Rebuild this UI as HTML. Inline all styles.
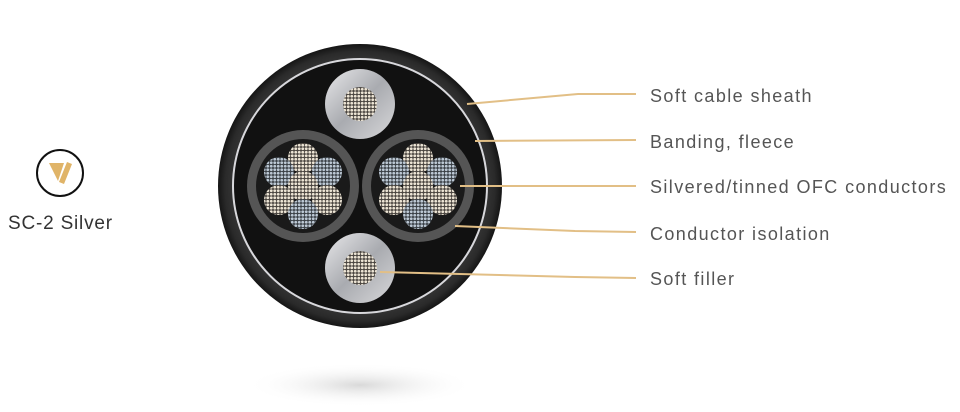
<!DOCTYPE html>
<html><head><meta charset="utf-8"><style>
html,body{margin:0;padding:0;background:#fff;width:960px;height:412px;overflow:hidden}
svg{display:block}
text{font-family:"Liberation Sans",sans-serif}
</style></head><body>
<svg width="960" height="412" viewBox="0 0 960 412" xmlns="http://www.w3.org/2000/svg">
<defs>
<radialGradient id="shadow" cx="50%" cy="50%" r="50%">
<stop offset="0" stop-color="#c8c8c8" stop-opacity="0.7"/>
<stop offset="1" stop-color="#fff" stop-opacity="0"/>
</radialGradient>
<radialGradient id="sheath" cx="50%" cy="50%" r="50%">
<stop offset="0.85" stop-color="#3a3a3a"/>
<stop offset="0.95" stop-color="#2a2a2a"/>
<stop offset="1" stop-color="#151515"/>
</radialGradient>
<linearGradient id="silver" x1="0" y1="0" x2="1" y2="1">
<stop offset="0" stop-color="#e8e8ea"/>
<stop offset="0.5" stop-color="#a9abb0"/>
<stop offset="1" stop-color="#d8d8da"/>
</linearGradient>
<pattern id="dotsW" width="3.5" height="3.5" patternUnits="userSpaceOnUse">
<rect width="3.5" height="3.5" fill="#4a4540"/>
<circle cx="1.75" cy="1.75" r="1.4" fill="#ece4d4"/>
</pattern>
<pattern id="dotsB" width="3.5" height="3.5" patternUnits="userSpaceOnUse">
<rect width="3.5" height="3.5" fill="#3a4046"/>
<circle cx="1.75" cy="1.75" r="1.4" fill="#bcc8d4"/>
</pattern>
</defs>
<ellipse cx="360" cy="385" rx="115" ry="22" fill="url(#shadow)"/>
<circle cx="360" cy="186" r="142" fill="url(#sheath)"/>
<circle cx="360" cy="186" r="127" fill="#111" stroke="#d8d8dc" stroke-width="2"/>
<circle cx="360" cy="104" r="35" fill="url(#silver)"/>
<circle cx="360" cy="104" r="17" fill="url(#dotsW)"/>
<circle cx="360" cy="268" r="35" fill="url(#silver)"/>
<circle cx="360" cy="268" r="17" fill="url(#dotsW)"/>
<g>
<circle cx="303" cy="186" r="56" fill="#555"/>
<circle cx="303" cy="186" r="47" fill="#1a1a1a"/>
<circle cx="303" cy="158" r="15" fill="url(#dotsW)"/>
<circle cx="279" cy="172" r="15" fill="url(#dotsB)"/>
<circle cx="327" cy="172" r="15" fill="url(#dotsB)"/>
<circle cx="303" cy="186" r="15" fill="url(#dotsW)"/>
<circle cx="279" cy="200" r="15" fill="url(#dotsW)"/>
<circle cx="327" cy="200" r="15" fill="url(#dotsW)"/>
<circle cx="303" cy="214" r="15" fill="url(#dotsB)"/>
</g>
<g>
<circle cx="418" cy="186" r="56" fill="#555"/>
<circle cx="418" cy="186" r="47" fill="#1a1a1a"/>
<circle cx="418" cy="158" r="15" fill="url(#dotsW)"/>
<circle cx="394" cy="172" r="15" fill="url(#dotsB)"/>
<circle cx="442" cy="172" r="15" fill="url(#dotsB)"/>
<circle cx="418" cy="186" r="15" fill="url(#dotsW)"/>
<circle cx="394" cy="200" r="15" fill="url(#dotsW)"/>
<circle cx="442" cy="200" r="15" fill="url(#dotsW)"/>
<circle cx="418" cy="214" r="15" fill="url(#dotsB)"/>
</g>
<g fill="none" stroke="#e2bf86" stroke-width="2">
<polyline points="467,104 578,94 636,94"/>
<polyline points="475,141 636,140"/>
<polyline points="460,186 636,186"/>
<polyline points="455,226 575,231 636,232"/>
<polyline points="380,272 575,277 636,278"/>
</g>
<g fill="#555" font-size="18" letter-spacing="1.4">
<text x="650" y="102">Soft cable sheath</text>
<text x="650" y="148">Banding, fleece</text>
<text x="650" y="193">Silvered/tinned OFC conductors</text>
<text x="650" y="240">Conductor isolation</text>
<text x="650" y="285">Soft filler</text>
</g>
<circle cx="60" cy="173" r="23" fill="#fff" stroke="#111" stroke-width="2"/>
<path d="M49,163 L64,163 L58,181 Z" fill="#e0b468"/>
<path d="M67,162 L72,164 L64,184 L59,182 Z" fill="#e0b468"/>
<text x="8" y="229" font-size="19" fill="#333" letter-spacing="0.8">SC-2 Silver</text>
</svg>
</body></html>
